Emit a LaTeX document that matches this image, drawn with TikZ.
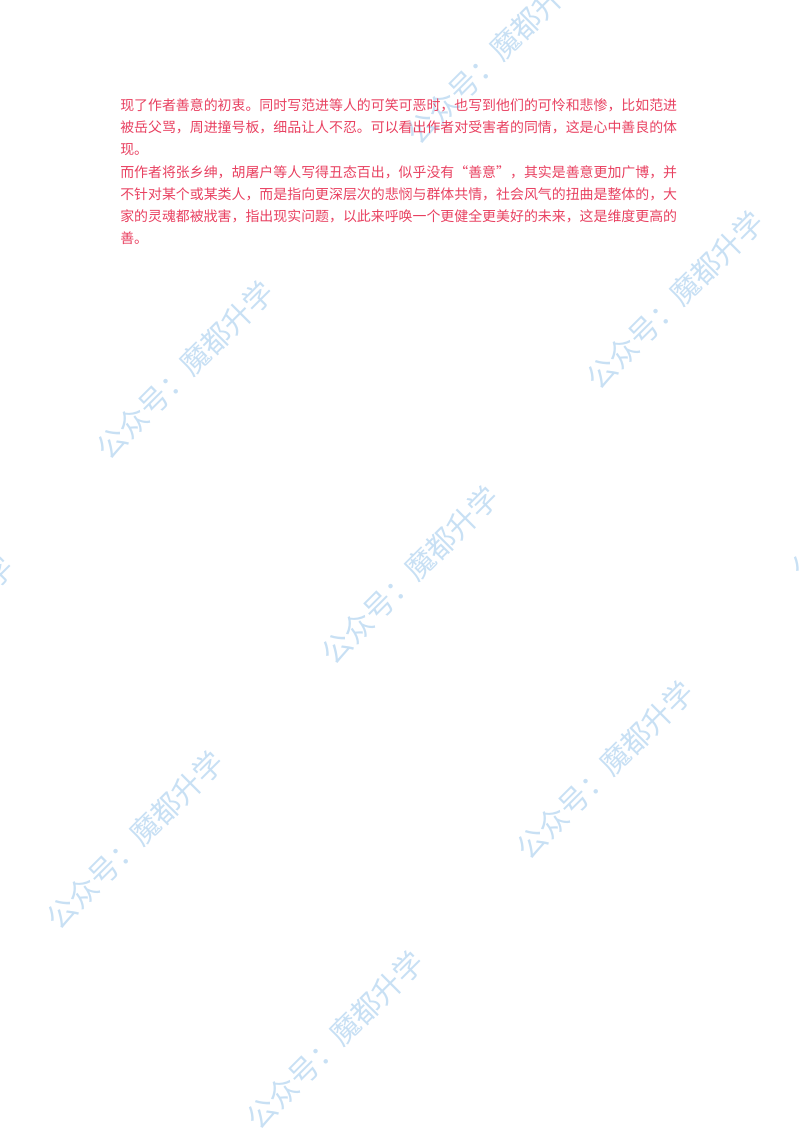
\documentclass[tikz,border=0pt]{standalone}
\usepackage{fontspec}
\setmainfont{Noto Sans CJK SC}
\definecolor{bodyred}{RGB}{232,64,96}
\definecolor{markblue}{RGB}{200,224,244}
\tikzset{
  line/.style={anchor=base west,inner sep=0pt,font=\fontsize{9.9pt}{12pt}\selectfont,text=bodyred},
  watermark/.style={rotate=45,inner sep=0pt,font=\fontsize{21pt}{23pt}\selectfont,text=markblue},
}
\begin{document}
\begin{tikzpicture}[x=0.025cm,y=-0.025cm]
  \useasboundingbox (0,0) rectangle (800,1132);
  % watermarks
  \foreach \cx/\cy [count=\i] in {495/55,675/300,185/370,410/575,-75/645,880/490,605/770,135/840,335/1040}
    \node[watermark] (wm\i) at (\cx,\cy) {公众号：魔都升学};
  % body text
  \node[line] (l1) at (120,110) {现了作者善意的初衷。同时写范进等人的可笑可恶时，也写到他们的可怜和悲惨，比如范进};
  \node[line] (l2) at (120,132) {被岳父骂，周进撞号板，细品让人不忍。可以看出作者对受害者的同情，这是心中善良的体};
  \node[line] (l3) at (120,154) {现。};
  \node[line] (l4) at (120,177) {而作者将张乡绅，胡屠户等人写得丑态百出，似乎没有“善意”，其实是善意更加广博，并};
  \node[line] (l5) at (120,199) {不针对某个或某类人，而是指向更深层次的悲悯与群体共情，社会风气的扭曲是整体的，大};
  \node[line] (l6) at (120,221) {家的灵魂都被戕害，指出现实问题，以此来呼唤一个更健全更美好的未来，这是维度更高的};
  \node[line] (l7) at (120,243) {善。};
\end{tikzpicture}
\end{document}
